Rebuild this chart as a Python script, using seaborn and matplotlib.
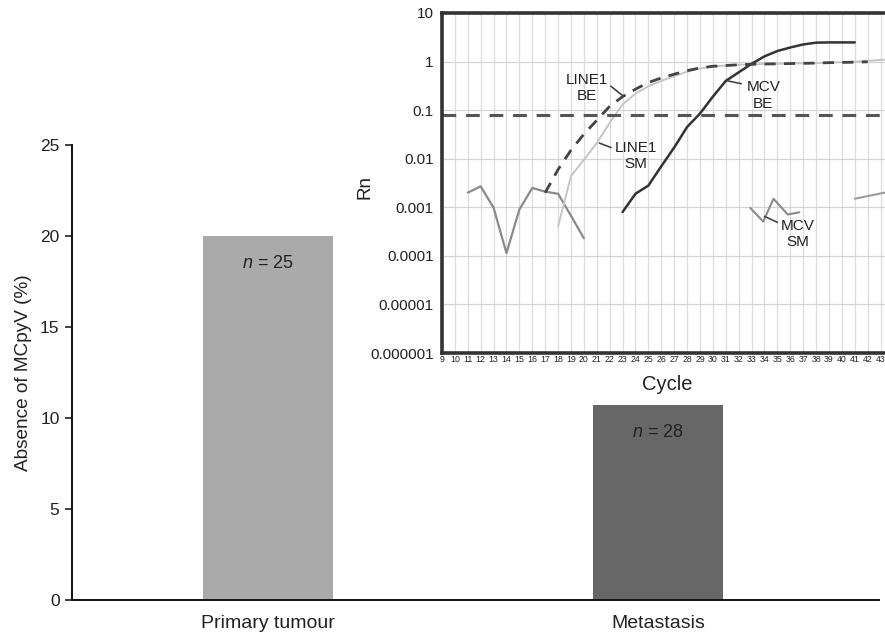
import numpy as np
import pandas as pd
import matplotlib
matplotlib.use("Agg")
import matplotlib.pyplot as plt
import seaborn as sns

# ---------------- data ----------------
bar_categories = ["Primary tumour", "Metastasis"]
bar_values = [20.0, 10.7]
bar_n = [25, 28]
bar_colors = ["#aaaaaa", "#676767"]

noise_cycles = [11, 12, 13, 14, 15, 16, 17, 18, 19, 20]
noise_rn = [0.0020, 0.0027, 0.00098, 0.000114, 0.0009, 0.0025, 0.0021, 0.0019, 0.00067, 0.00023]

line1_be_cycles = list(range(17, 43))
line1_be_rn = [0.002, 0.006, 0.015, 0.032, 0.062, 0.12, 0.19, 0.27, 0.37, 0.46,
               0.55, 0.65, 0.74, 0.80, 0.83, 0.86, 0.88, 0.89, 0.90, 0.91,
               0.92, 0.93, 0.95, 0.96, 0.97, 0.99]

line1_sm_cycles = list(range(18, 45))
line1_sm_rn = [0.0004, 0.0044, 0.0095, 0.021, 0.055, 0.13, 0.22, 0.31, 0.40, 0.50,
               0.62, 0.72, 0.79, 0.83, 0.86, 0.88, 0.89, 0.90, 0.91, 0.92,
               0.93, 0.95, 0.97, 1.00, 1.03, 1.08, 1.13]

mcv_be_cycles = list(range(23, 42))
mcv_be_rn = [0.0008, 0.0019, 0.0028, 0.0070, 0.017, 0.045, 0.085, 0.19, 0.40, 0.60,
             0.90, 1.28, 1.65, 1.95, 2.25, 2.45, 2.48, 2.48, 2.48]

mcv_sm1_cycles = [32.9, 33.9, 34.7, 35.8, 36.7]
mcv_sm1_rn = [0.00097, 0.00051, 0.0015, 0.00071, 0.00079]
mcv_sm2_cycles = [41.0, 43.3, 44.0]
mcv_sm2_rn = [0.0015, 0.0020, 0.0022]

threshold = 0.08
cycle_ticks = list(range(9, 44))
rn_ticks = [1e-6, 1e-5, 1e-4, 1e-3, 1e-2, 1e-1, 1, 10]
rn_tick_labels = ["0.000001", "0.00001", "0.0001", "0.001", "0.01", "0.1", "1", "10"]

# ---------------- style ----------------
sns.set_style("ticks")
plt.rcParams["font.family"] = ["Liberation Sans", "DejaVu Sans"]
plt.rcParams["mathtext.fontset"] = "custom"
plt.rcParams["mathtext.it"] = "Liberation Sans:italic"
plt.rcParams["mathtext.rm"] = "Liberation Sans"
TXT = "#222222"

fig = plt.figure(figsize=(8.85, 6.34), dpi=100)

# ---------------- main bar chart ----------------
ax = fig.add_axes([0.0814, 0.0536, 0.912, 0.7177])
df = pd.DataFrame({"cat": bar_categories, "val": bar_values})
sns.barplot(data=df, x="cat", y="val", hue="cat", palette=bar_colors,
            legend=False, width=0.333, ax=ax, saturation=1, edgecolor="none")
ax.set_xlim(-0.5027, 1.5668)
ax.set_ylim(0, 25)
ax.set_yticks([0, 5, 10, 15, 20, 25])
ax.set_xlabel("")
ax.set_ylabel("Absence of MCpyV (%)", fontsize=13.7, color=TXT, labelpad=6)
ax.tick_params(axis="y", labelsize=12.5, length=5, width=1.2, colors=TXT, pad=4)
ax.tick_params(axis="x", labelsize=14, length=0, colors=TXT, pad=11)
for s in ["top", "right"]:
    ax.spines[s].set_visible(False)
for s in ["left", "bottom"]:
    ax.spines[s].set_linewidth(1.4)
    ax.spines[s].set_color("#111111")
for i, (v, n) in enumerate(zip(bar_values, bar_n)):
    ax.text(i, v - 1.5, rf"$n$ = {n}", ha="center", va="center",
            fontsize=13, color=TXT)

# ---------------- inset qPCR plot ----------------
axin = fig.add_axes([0.4994, 0.4432, 0.5102, 0.5363])
axin.set_facecolor("white")
axin.set_yscale("log")
axin.set_xlim(9, 44)
axin.set_ylim(1e-6, 10)
axin.set_xticks(cycle_ticks)
axin.set_xticklabels([str(c) for c in cycle_ticks])
axin.set_yticks(rn_ticks)
axin.set_yticklabels(rn_tick_labels)
axin.minorticks_off()
axin.grid(True, axis="x", color="#dcdcdc", lw=0.9)
axin.grid(True, axis="y", color="#d4d4d4", lw=0.9)
axin.set_axisbelow(True)

sns.lineplot(x=noise_cycles, y=noise_rn, ax=axin, color="#8a8a8a", lw=1.6)
sns.lineplot(x=line1_sm_cycles, y=line1_sm_rn, ax=axin, color="#c6c6c6", lw=1.4)
sns.lineplot(x=mcv_sm1_cycles, y=mcv_sm1_rn, ax=axin, color="#8a8a8a", lw=1.5)
sns.lineplot(x=mcv_sm2_cycles, y=mcv_sm2_rn, ax=axin, color="#9a9a9a", lw=1.5)
sns.lineplot(x=mcv_be_cycles, y=mcv_be_rn, ax=axin, color="#333333", lw=1.8)
sns.lineplot(x=line1_be_cycles, y=line1_be_rn, ax=axin, color="#444444", lw=2.0)
axin.lines[-1].set_dashes([4, 3])
axin.axhline(threshold, color="#555555", lw=2.2, dashes=(4.5, 3.2))

axin.tick_params(axis="x", labelsize=6.3, length=0, pad=1.5, colors=TXT)
axin.tick_params(axis="y", labelsize=11, length=0, pad=6, colors=TXT)
axin.set_xlabel("Cycle", fontsize=14.5, color=TXT, labelpad=8)
axin.set_ylabel("Rn", fontsize=13.5, color=TXT)
axin.yaxis.set_label_coords(-0.151, 0.488)
for s in ["left", "top", "bottom"]:
    axin.spines[s].set_linewidth(2.6)
    axin.spines[s].set_color("#333333")
axin.spines["right"].set_visible(False)

# annotations
ann_kw = dict(ha="center", va="center", fontsize=11, color=TXT, linespacing=1.2)
leader = dict(arrowstyle="-", color="#444444", lw=1.2, shrinkA=0, shrinkB=0)
axin.text(20.24, 0.286, "LINE1\nBE", **ann_kw)
axin.annotate("", xy=(23.0, 0.20), xytext=(22.1, 0.31), arrowprops=leader)
axin.text(24.0, 0.0112, "LINE1\nSM", **ann_kw)
axin.annotate("", xy=(21.2, 0.021), xytext=(22.1, 0.017), arrowprops=leader)
axin.text(33.9, 0.20, "MCV\nBE", **ann_kw)
axin.annotate("", xy=(31.15, 0.40), xytext=(32.2, 0.35), arrowprops=leader)
axin.text(36.6, 0.00028, "MCV\nSM", **ann_kw)
axin.annotate("", xy=(34.0, 0.00065), xytext=(35.0, 0.00049), arrowprops=leader)

fig.savefig("out.png", dpi=100)
